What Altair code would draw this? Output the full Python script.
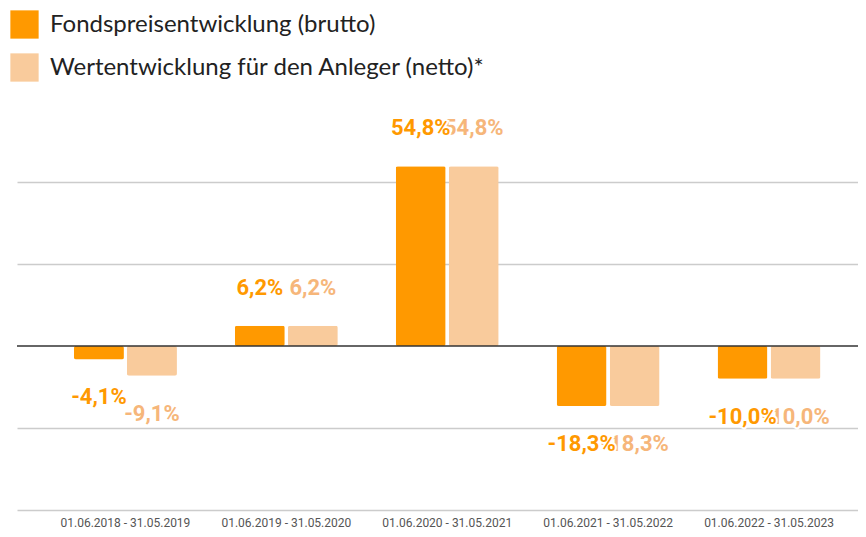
import altair as alt
import pandas as pd

periods = [
    "01.06.2018 - 31.05.2019",
    "01.06.2019 - 31.05.2020",
    "01.06.2020 - 31.05.2021",
    "01.06.2021 - 31.05.2022",
    "01.06.2022 - 31.05.2023",
]
series = ["Fondspreisentwicklung (brutto)", "Wertentwicklung für den Anleger (netto)*"]
brutto = [-4.1, 6.2, 54.8, -18.3, -10.0]
netto = [-9.1, 6.2, 54.8, -18.3, -10.0]

bar_colors = ["#FF9900", "#F9CB9C"]
label_colors = ["#FF9900", "#F6B67A"]

rows = []
for s, vals in zip(series, [brutto, netto]):
    for p, v in zip(periods, vals):
        rows.append({
            "period": p,
            "series": s,
            "value": v,
            "label": f"{v:.1f}".replace(".", ",") + "%",
        })
df = pd.DataFrame(rows)

x_enc = alt.X(
    "period:N",
    sort=periods,
    scale=alt.Scale(range=[0, 860.5], paddingInner=0.36, paddingOuter=0.354),
    axis=alt.Axis(
        title=None, labelAngle=0, ticks=False, domain=False,
        labelFont="Roboto", labelFontSize=12, labelColor="#555555",
        labelPadding=7, labelBaseline="top",
    ),
)
xo_enc = alt.XOffset("series:N", sort=series,
                     scale=alt.Scale(domain=series, paddingInner=0.058, paddingOuter=0))
y_enc = alt.Y(
    "value:Q",
    scale=alt.Scale(domain=[-50, 75], nice=False, zero=False),
    axis=alt.Axis(
        title=None, values=[-50, -25, 25, 50], labels=False, ticks=False,
        domain=False, grid=True, gridColor="#cccccc", gridWidth=1.5,
    ),
)

base = alt.Chart(df)

bars = base.mark_bar(cornerRadius=2).encode(
    x=x_enc,
    xOffset=xo_enc,
    y=y_enc,
    color=alt.Color(
        "series:N",
        sort=series,
        scale=alt.Scale(domain=series, range=bar_colors),
        legend=alt.Legend(
            orient="none", legendX=-7, legendY=-90, title=None,
            symbolType="square", symbolSize=800, symbolStrokeWidth=0,
            labelFont="Lato", labelFontSize=24, labelColor="#222222",
            labelOffset=11, rowPadding=14, padding=0, direction="vertical",
            labelLimit=600,
        ),
    ),
)

zero = alt.Chart(pd.DataFrame({"z": [0]})).mark_rule(color="#333333", strokeWidth=1.5).encode(
    y=alt.Y("z:Q")
)


def labels(sidx, halo):
    out = []
    for cond, dy in [("datum.value >= 0", -38), ("datum.value < 0", 38)]:
        kw = dict(font="Roboto", fontSize=22, fontWeight="bold",
                  baseline="middle", align="center", dy=dy)
        if halo:
            kw.update(color="white", stroke="white", strokeWidth=4)
        else:
            kw.update(color=label_colors[sidx])
        out.append(
            base.transform_filter(alt.datum.series == series[sidx])
            .transform_filter(cond)
            .mark_text(**kw)
            .encode(x=x_enc, xOffset=xo_enc, y=y_enc, text="label:N")
        )
    return out


layers = [bars, zero] + labels(1, True) + labels(1, False) + labels(0, True) + labels(0, False)

chart = alt.layer(*layers).properties(
    width=841,
    height=410,
    autosize=alt.AutoSizeParams(type="none"),
    padding={"left": 9, "top": 92, "right": 0, "bottom": 19},
).configure_view(stroke=None)

chart.save("out.html", embed_options={"renderer": "svg", "actions": False})
